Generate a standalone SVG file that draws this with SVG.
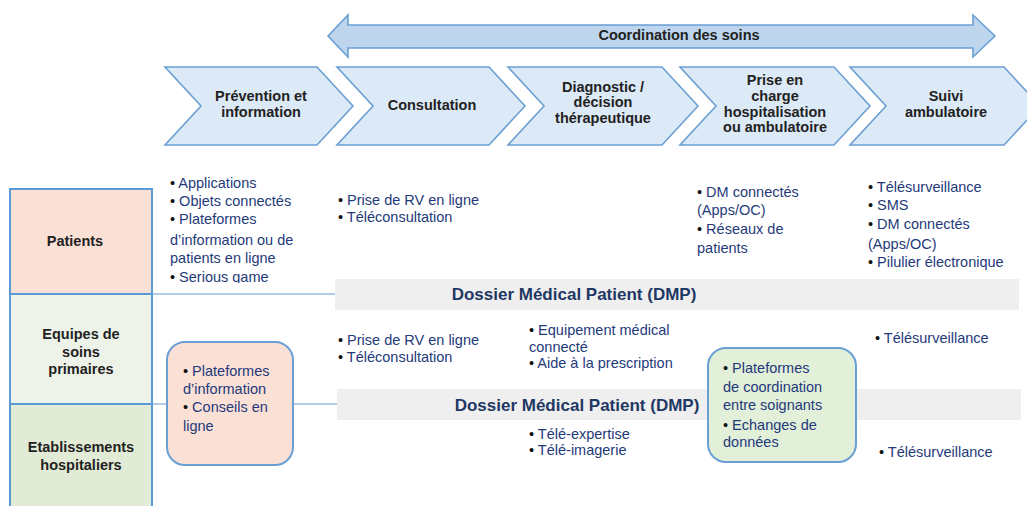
<svg xmlns="http://www.w3.org/2000/svg" width="1027" height="506" viewBox="0 0 1027 506">
<style>
text{font-family:"Liberation Sans",Arial,sans-serif}
.chev{fill:#dce9f6;stroke:#6a9fd4;stroke-width:1.6}
.ct{font-size:14.5px;font-weight:bold;fill:#222;text-anchor:middle}
.row{stroke:#5b9bd5;stroke-width:2}
.rl{font-size:14.5px;font-weight:bold;fill:#222;text-anchor:middle}
.it{font-size:14.5px;fill:#1f3a7a}
.b{fill:#111}
.dmp{fill:#efefef}
.dt{font-size:17px;font-weight:bold;fill:#1f3864;text-anchor:middle}
.conn{stroke:#b3cde9;stroke-width:2;fill:none}
.rb{stroke:#6a9fd4;stroke-width:2}
</style>
<defs>
<clipPath id="clipSer"><rect x="160" y="170" width="160" height="113"/></clipPath>
</defs>
<rect width="1027" height="506" fill="#fff"/>

<g id="coordination">
<polygon points="328,36 348,15 348,25 973,25 973,15 995,36 973,57 973,48 348,48 348,57" fill="#bdd6ee" stroke="#6a9fd4" stroke-width="1.6"/>
<text x="679" y="40" class="ct">Coordination des soins</text>
</g>

<g id="chev-prevention">
<polygon class="chev" points="165,67 317,67 353,106 317,145 165,145 201,106"/>
<text class="ct" x="261" y="101">Prévention et</text>
<text class="ct" x="261" y="117">information</text>
</g>
<g id="chev-consultation">
<polygon class="chev" points="337,67 489,67 525,106 489,145 337,145 373,106"/>
<text class="ct" x="432" y="110">Consultation</text>
</g>
<g id="chev-diagnostic">
<polygon class="chev" points="508,67 662,67 698,106 662,145 508,145 544,106"/>
<text class="ct" x="603" y="92">Diagnostic /</text>
<text class="ct" x="603" y="107">décision</text>
<text class="ct" x="603" y="123">thérapeutique</text>
</g>
<g id="chev-prise">
<polygon class="chev" points="680,67 834,67 870,106 834,145 680,145 716,106"/>
<text class="ct" x="775" y="85">Prise en</text>
<text class="ct" x="775" y="101">charge</text>
<text class="ct" x="775" y="117">hospitalisation</text>
<text class="ct" x="775" y="132">ou ambulatoire</text>
</g>
<g id="chev-suivi">
<polygon class="chev" points="850,67 1004,67 1040,106 1004,145 850,145 886,106"/>
<text class="ct" x="946" y="101">Suivi</text>
<text class="ct" x="946" y="117">ambulatoire</text>
</g>

<g id="connectors">
<line class="conn" x1="153" y1="294" x2="336" y2="294"/>
<line class="conn" x1="153" y1="404" x2="338" y2="404"/>
</g>

<g id="row-patients">
<rect class="row" x="10" y="189" width="142" height="105" fill="#fbe0d6"/>
<text class="rl" x="75" y="246">Patients</text>
</g>
<g id="row-equipes">
<rect class="row" x="10" y="294" width="142" height="110" fill="#eef3ea"/>
<text class="rl" x="81" y="339">Equipes de</text>
<text class="rl" x="81" y="357">soins</text>
<text class="rl" x="81" y="374">primaires</text>
</g>
<g id="row-etablissements">
<rect class="row" x="10" y="404" width="142" height="110" fill="#e2ebd5"/>
<text class="rl" x="81" y="452">Etablissements</text>
<text class="rl" x="81" y="470">hospitaliers</text>
</g>

<g id="dmp-1">
<rect class="dmp" x="335" y="279" width="684" height="31"/>
<text class="dt" x="574" y="300">Dossier Médical Patient (DMP)</text>
</g>
<g id="dmp-2">
<rect class="dmp" x="337" y="389" width="684" height="31"/>
<text class="dt" x="577" y="411">Dossier Médical Patient (DMP)</text>
</g>

<g id="patients-prevention">
<text class="it" x="170" y="188"><tspan class="b">• </tspan>Applications</text>
<text class="it" x="170" y="206"><tspan class="b">• </tspan>Objets connectés</text>
<text class="it" x="170" y="224"><tspan class="b">• </tspan>Plateformes</text>
<text class="it" x="170" y="245">d’information ou de</text>
<text class="it" x="170" y="263">patients en ligne</text>
<text class="it" x="170" y="282" clip-path="url(#clipSer)"><tspan class="b">• </tspan>Serious game</text>
</g>
<g id="patients-consultation">
<text class="it" x="338" y="205"><tspan class="b">• </tspan>Prise de RV en ligne</text>
<text class="it" x="338" y="222"><tspan class="b">• </tspan>Téléconsultation</text>
</g>
<g id="patients-prise">
<text class="it" x="697" y="197"><tspan class="b">• </tspan>DM connectés</text>
<text class="it" x="697" y="215">(Apps/OC)</text>
<text class="it" x="697" y="234"><tspan class="b">• </tspan>Réseaux de</text>
<text class="it" x="697" y="253">patients</text>
</g>
<g id="patients-suivi">
<text class="it" x="868" y="192"><tspan class="b">• </tspan>Télésurveillance</text>
<text class="it" x="868" y="210"><tspan class="b">• </tspan>SMS</text>
<text class="it" x="868" y="229"><tspan class="b">• </tspan>DM connectés</text>
<text class="it" x="868" y="249">(Apps/OC)</text>
<text class="it" x="868" y="267"><tspan class="b">• </tspan>Pilulier électronique</text>
</g>

<g id="equipes-consultation">
<text class="it" x="338" y="345"><tspan class="b">• </tspan>Prise de RV en ligne</text>
<text class="it" x="338" y="362"><tspan class="b">• </tspan>Téléconsultation</text>
</g>
<g id="equipes-diagnostic">
<text class="it" x="529" y="335"><tspan class="b">• </tspan>Equipement médical</text>
<text class="it" x="529" y="352">connecté</text>
<text class="it" x="529" y="368"><tspan class="b">• </tspan>Aide à la prescription</text>
</g>
<g id="equipes-suivi">
<text class="it" x="875" y="343"><tspan class="b">• </tspan>Télésurveillance</text>
</g>
<g id="etab-diagnostic">
<text class="it" x="529" y="439"><tspan class="b">• </tspan>Télé-expertise</text>
<text class="it" x="529" y="455"><tspan class="b">• </tspan>Télé-imagerie</text>
</g>
<g id="etab-suivi">
<text class="it" x="879" y="457"><tspan class="b">• </tspan>Télésurveillance</text>
</g>

<g id="box-information">
<rect class="rb" x="167" y="342" width="126" height="123" rx="18" fill="#fbe0d6"/>
<text class="it" x="183" y="376"><tspan class="b">• </tspan>Plateformes</text>
<text class="it" x="183" y="394">d’information</text>
<text class="it" x="183" y="412"><tspan class="b">• </tspan>Conseils en</text>
<text class="it" x="183" y="431">ligne</text>
</g>
<g id="box-coordination">
<rect class="rb" x="708" y="348" width="148" height="114" rx="18" fill="#e2efd9"/>
<text class="it" x="723" y="373"><tspan class="b">• </tspan>Plateformes</text>
<text class="it" x="723" y="392">de coordination</text>
<text class="it" x="723" y="410">entre soignants</text>
<text class="it" x="723" y="430"><tspan class="b">• </tspan>Echanges de</text>
<text class="it" x="723" y="447">données</text>
</g>
</svg>
